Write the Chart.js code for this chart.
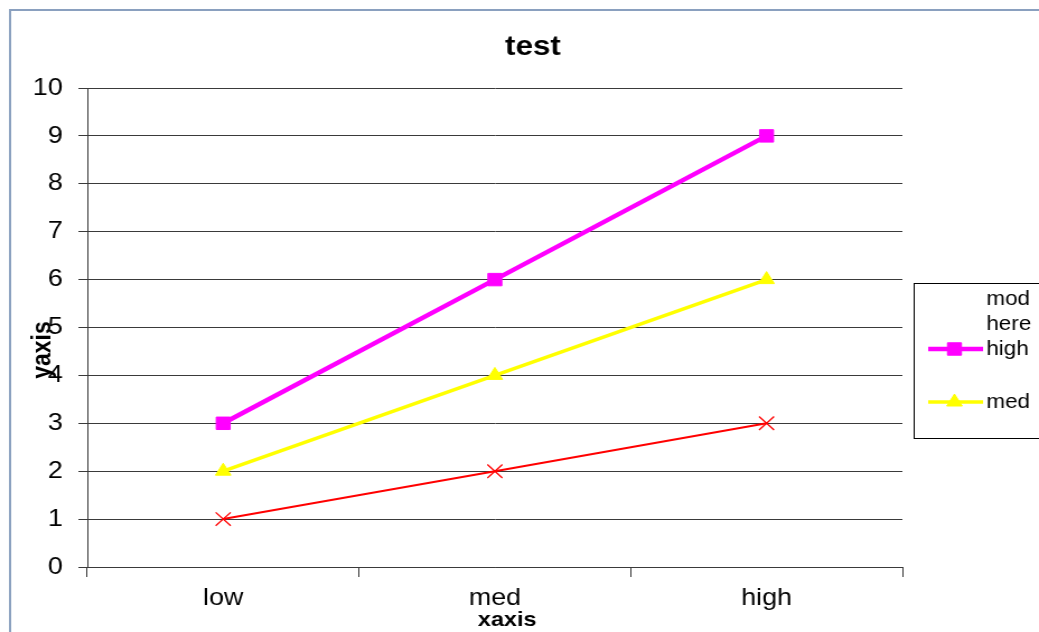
<!DOCTYPE html>
<html>
<head>
<meta charset="utf-8">
<script src="https://cdn.jsdelivr.net/npm/chart.js@4.4.1/dist/chart.umd.min.js"></script>
<style>
  html, body { margin: 0; padding: 0; background: #fff; overflow: hidden; }
  #grafico { display: block; width: 1039px; height: 632px; }
</style>
</head>
<body>
<canvas id="grafico" width="928" height="632" style="width:1039px;height:632px"></canvas>
<script>
// dados do gráfico
const categories = ["low", "med", "high"];
const highValues = [3, 6, 9];
const medValues = [2, 4, 6];
const lowValues = [1, 2, 3];
const yTicks = [0, 1, 2, 3, 4, 5, 6, 7, 8, 9, 10];

const chartTitle = "test";
const xTitle = "xaxis";
const yTitle = "yaxis";
const legendTitle = ["mod", "here"];

const FONT = '"Liberation Sans", Arial, sans-serif';

// desenha moldura, títulos e a legenda no estilo do Excel
const excelExtras = {
  id: "excelExtras",
  afterDraw(chart) {
    const ctx = chart.ctx;
    ctx.save();

    // moldura externa
    ctx.strokeStyle = "#8aa0bf";
    ctx.lineWidth = 2;
    ctx.strokeRect(9, 10, 1000, 700);

    ctx.fillStyle = "#000";
    ctx.textAlign = "center";
    ctx.textBaseline = "middle";
    ctx.font = "bold 28px " + FONT;
    ctx.fillText(chartTitle, 476, 47);

    ctx.font = "bold 21px " + FONT;
    ctx.fillText(xTitle, 453, 620);

    ctx.save();
    ctx.font = "bold 23px " + FONT;
    ctx.translate(39, 350);
    ctx.rotate(-Math.PI / 2);
    ctx.fillText(yTitle, 0, 0);
    ctx.restore();

    // legenda
    ctx.strokeStyle = "#000";
    ctx.lineWidth = 1;
    ctx.strokeRect(816.5, 283.5, 200, 155);

    ctx.textAlign = "left";
    ctx.textBaseline = "alphabetic";
    ctx.font = "20px " + FONT;
    ctx.fillText(legendTitle[0], 881, 305);
    ctx.fillText(legendTitle[1], 881, 330);

    const rows = [
      { ds: chart.data.datasets[0], y: 349, text: 355 },
      { ds: chart.data.datasets[1], y: 402, text: 408 },
    ];
    rows.forEach(r => {
      ctx.strokeStyle = r.ds.borderColor;
      ctx.fillStyle = r.ds.borderColor;
      ctx.lineWidth = r.ds.borderWidth;
      ctx.beginPath();
      ctx.moveTo(829, r.y);
      ctx.lineTo(878, r.y);
      ctx.stroke();
      ctx.lineWidth = 1;
      Chart.helpers.drawPoint(ctx, {
        pointStyle: r.ds.pointStyle,
        radius: r.ds.pointRadius,
        borderWidth: 1,
        rotation: 0,
      }, 852.5, r.y);
      ctx.fillStyle = "#000";
      ctx.fillText(r.ds.label, 881, r.text);
    });

    ctx.restore();
  }
};

const ctx = document.getElementById("grafico").getContext("2d");

new Chart(ctx, {
  type: "line",
  data: {
    labels: categories,
    datasets: [
      {
        label: "high",
        data: highValues,
        borderColor: "#ff00ff",
        backgroundColor: "#ff00ff",
        borderWidth: 4.5,
        pointStyle: "rect",
        pointRadius: 8.8,
        pointBorderWidth: 1,
        fill: false,
        tension: 0,
      },
      {
        label: "med",
        data: medValues,
        borderColor: "#ffff00",
        backgroundColor: "#ffff00",
        borderWidth: 3.5,
        pointStyle: "triangle",
        pointRadius: 8,
        pointBorderWidth: 1,
        fill: false,
        tension: 0,
      },
      {
        label: "low",
        data: lowValues,
        borderColor: "#ff0000",
        backgroundColor: "#ff0000",
        borderWidth: 2,
        pointStyle: "crossRot",
        pointRadius: 9.5,
        pointBorderWidth: 1.3,
        fill: false,
        tension: 0,
      },
    ],
  },
  options: {
    responsive: false,
    animation: false,
    devicePixelRatio: 1,
    layout: { padding: { top: 88, right: 122, bottom: 0, left: 0 } },
    plugins: {
      legend: { display: false },
      title: { display: false },
      tooltip: { enabled: false },
    },
    scales: {
      x: {
        type: "category",
        offset: true,
        afterFit: s => { s.height = 65; },
        grid: {
          offset: true,
          drawOnChartArea: false,
          drawTicks: true,
          tickLength: 10,
          color: "#3a3a3a",
        },
        border: { display: true, color: "#3a3a3a", width: 1 },
        ticks: {
          color: "#000",
          font: { family: FONT, size: 24 },
          padding: 7,
          maxRotation: 0,
        },
      },
      y: {
        min: 0,
        max: 10,
        afterFit: s => { s.width = 78; },
        afterBuildTicks: s => { s.ticks = yTicks.map(v => ({ value: v })); },
        grid: {
          color: "#3a3a3a",
          drawTicks: true,
          tickLength: 8,
        },
        border: { display: true, color: "#3a3a3a", width: 1 },
        ticks: {
          color: "#000",
          font: { family: FONT, size: 24 },
          padding: 14,
        },
      },
    },
  },
  plugins: [excelExtras],
});
</script>
</body>
</html>
